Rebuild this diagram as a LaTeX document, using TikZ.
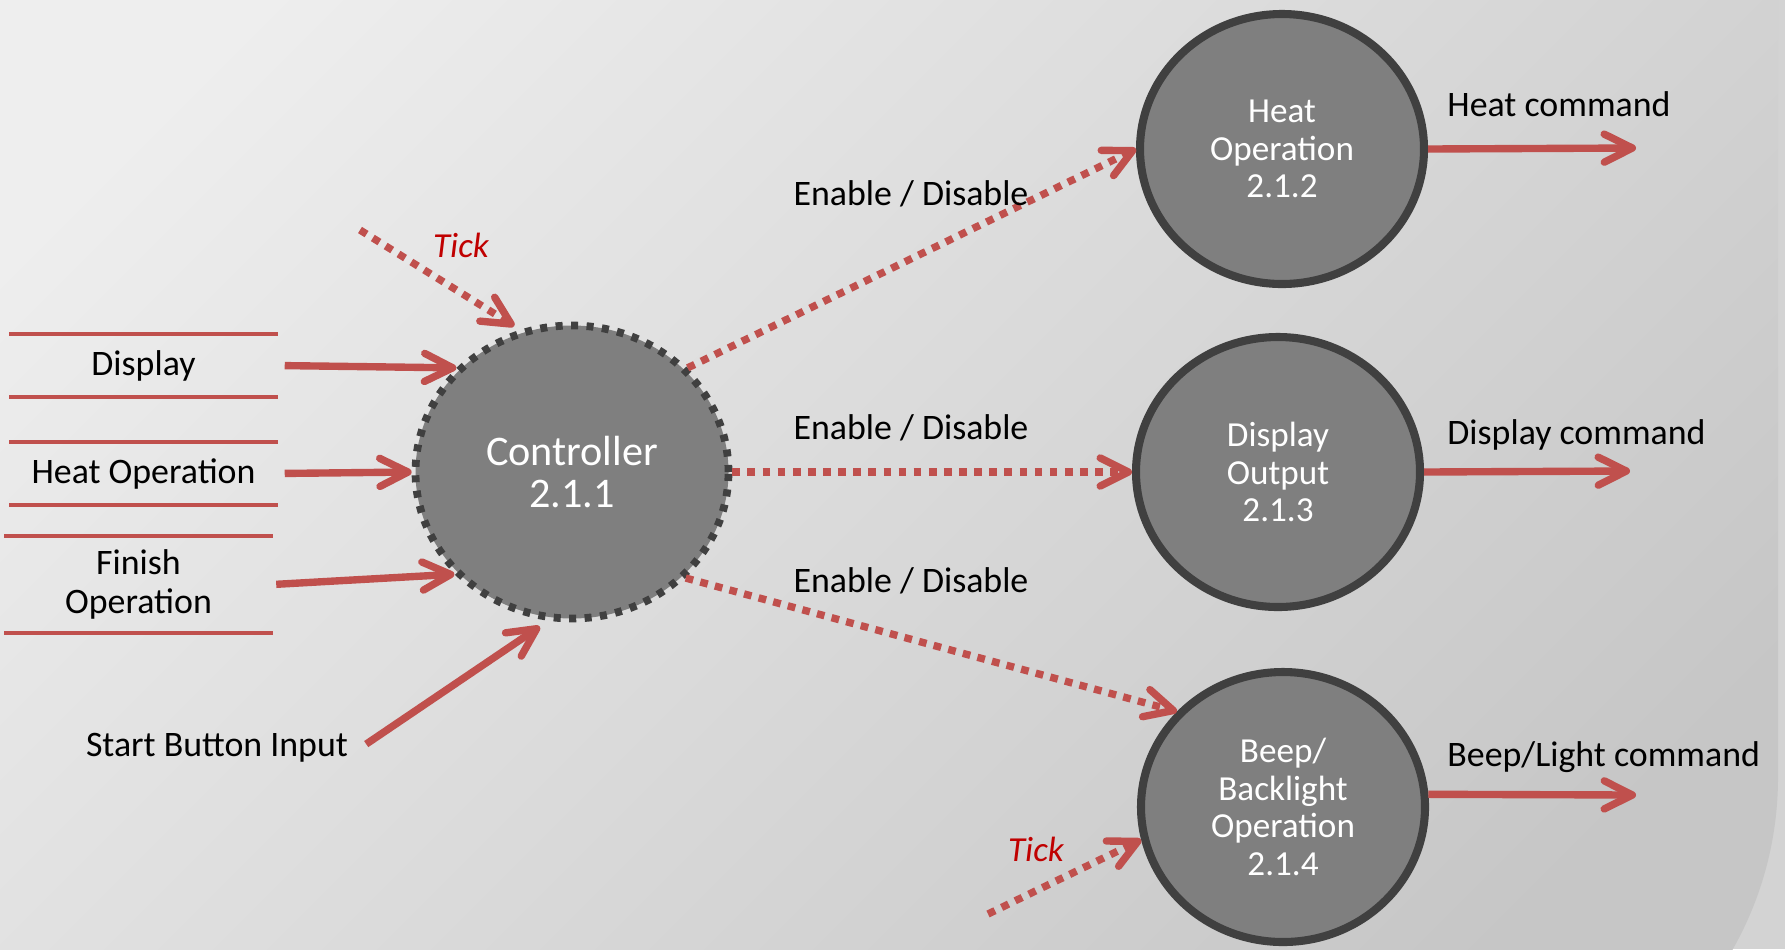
\documentclass[tikz,border=0pt]{standalone}
\usepackage{fontspec}
\setmainfont{Carlito}
\usetikzlibrary{shapes,arrows.meta,positioning}

\definecolor{flowred}{HTML}{C0504D}
\definecolor{tickred}{HTML}{C00000}
\definecolor{procfill}{HTML}{7F7F7F}
\definecolor{procline}{HTML}{404040}
\definecolor{bgtop}{HTML}{EEEEEE}
\definecolor{bgbottom}{HTML}{C6C6C6}
\definecolor{bgout}{HTML}{D3D3D3}

\tikzset{
  process/.style={ellipse, draw=procline, line width=2.3pt, fill=procfill, text=white, align=center,
    minimum width=2.84cm, minimum height=2.70cm, inner sep=0pt, font=\fontsize{10}{10.7}\selectfont},
  control/.style={process, line width=2.2pt, dash pattern=on 2pt off 2.4pt,
    minimum width=3.13cm, minimum height=2.93cm, font=\fontsize{12}{12}\selectfont},
  store/.style={minimum width=2.67cm, minimum height=0.61cm, inner sep=0pt, align=center,
    font=\fontsize{10.2}{11}\selectfont},
  storeline/.style={draw=flowred, line width=1.2pt},
  flowtext/.style={font=\fontsize{10.2}{11}\selectfont, text=black},
  ticktext/.style={font=\fontsize{10}{11}\selectfont\itshape, text=tickred},
  flow/.style={draw=flowred, line width=2.1pt, -{Straight Barb[length=8pt,width=8pt,round]}},
  signal/.style={flow, dash pattern=on 2.2pt off 2.1pt}
}

\begin{document}
\begin{tikzpicture}
                \useasboundingbox (0,0) rectangle (17.85,-9.49);
                % background
                \fill[bgout] (0,0) rectangle (17.85,-9.49);
                \shade[top color=bgtop, bottom color=bgbottom, shading angle=45]
                    (-1,1) -- (17.78,1) -- (17.78,-7.77) arc[start angle=0, end angle=-90, radius=3.5] -- (-1,-11.27) -- cycle;

                % --------
                % Processes
                % --------
                \node[control] at (5.72, -4.72) (ctrl) {Controller\\2.1.1};
                \node[process] at (12.82, -1.49) (heat) {Heat\\Operation\\2.1.2};
                \node[process] at (12.78, -4.72) (disp) {Display\\Output\\2.1.3};
                \node[process] at (12.83, -8.07) (beep) {Beep/\\Backlight\\Operation\\2.1.4};

                % --------
                % Inputs
                % --------
                \node[store] at (1.435, -3.655) (display) {Display};
                \node[store] at (1.435, -4.735) (heatin) {Heat Operation};
                \node[store, minimum height=0.95cm] at (1.385, -5.845) (finish) {Finish\\Operation};
                \foreach \s in {display, heatin, finish} {
                    \draw[storeline] (\s.north west) -- (\s.north east) (\s.south west) -- (\s.south east);
                }
                \node[flowtext] at (2.17, -7.48) (start) {Start Button Input};

                \coordinate (tickA) at (3.60, -2.30);
                \coordinate (tickB) at (9.88, -9.14);
                \node[ticktext] at (4.61, -2.45) (tickAtext) {Tick};
                \node[ticktext] at (10.36, -8.49) (tickBtext) {Tick};

                % Draw line
                \draw[flow, shorten <=2pt] (display.east) -- (ctrl.138);
                \draw[flow, shorten <=2pt] (heatin.east) -- (ctrl.180);
                \draw[flow, shorten <=1pt] (finish.east) -- (ctrl.221);
                \draw[flow, shorten <=2pt, shorten >=3pt] (start.east) -- (ctrl.261);
                \draw[signal, shorten >=2pt] (tickA) -- (ctrl.110);
                \draw[signal] (tickB) -- (beep.193);

                % --------
                % Enable / Disable
                % --------
                \draw[signal] (ctrl.42) -- (heat.180);
                \draw[signal] (ctrl.0) -- (disp.180);
                \draw[signal] (ctrl.-43) -- (beep.138);
                \node[flowtext] at (9.11, -1.94) (enA) {Enable / Disable};
                \node[flowtext] at (9.11, -4.28) (enB) {Enable / Disable};
                \node[flowtext] at (9.11, -5.81) (enC) {Enable / Disable};

                % --------
                % Outputs
                % --------
                \coordinate (heatout) at (16.36, -1.48);
                \coordinate (dispout) at (16.30, -4.71);
                \coordinate (beepout) at (16.36, -7.95);
                \draw[flow] (heat.east) -- (heatout);
                \draw[flow] (disp.east) -- (dispout);
                \draw[flow] (beep.5) -- (beepout);
                \node[flowtext, anchor=west] at (14.35, -1.04) (heatcmd) {Heat command};
                \node[flowtext, anchor=west] at (14.35, -4.35) (dispcmd) {Display command};
                \node[flowtext, anchor=west] at (14.35, -7.57) (beepcmd) {Beep/Light command};
\end{tikzpicture}
\end{document}
